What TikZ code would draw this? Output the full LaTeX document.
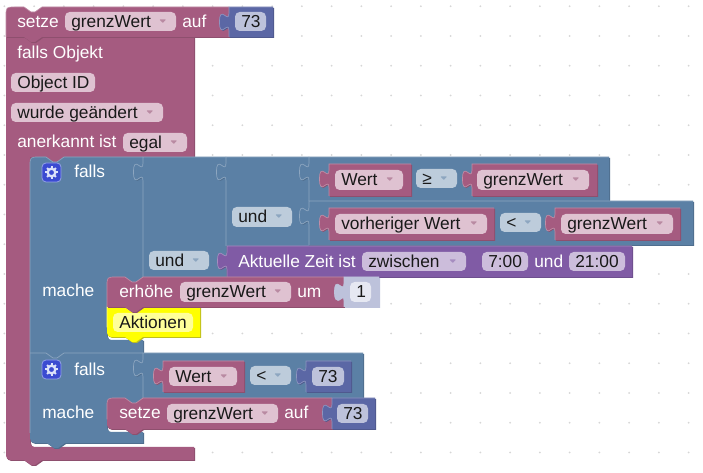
\documentclass[tikz,border=0pt]{standalone}
\usepackage{fontspec}
\setmainfont{Liberation Sans}
\definecolor{blkR}{HTML}{A55B80}\definecolor{drkR}{HTML}{8E4F6E}\definecolor{litR}{HTML}{C08DA6}\definecolor{fcR}{HTML}{DFC2D1}\definecolor{acR}{HTML}{B98AA2}
\definecolor{blkB}{HTML}{5B80A5}\definecolor{drkB}{HTML}{4F6E8E}\definecolor{litB}{HTML}{8DA6C0}\definecolor{fcB}{HTML}{BDCCDB}\definecolor{acB}{HTML}{8DA6C0}
\definecolor{blkP}{HTML}{805BA5}\definecolor{drkP}{HTML}{6E4F8E}\definecolor{litP}{HTML}{A68DC0}\definecolor{fcP}{HTML}{CCBDDB}\definecolor{acP}{HTML}{A68DC0}
\definecolor{blkM}{HTML}{5B67A5}\definecolor{drkM}{HTML}{4F598E}\definecolor{litM}{HTML}{8D95C0}\definecolor{fcM}{HTML}{BDC2DB}\definecolor{acM}{HTML}{8D95C0}
\definecolor{blkS}{HTML}{BDC2DB}\definecolor{drkS}{HTML}{BDC2DB}\definecolor{litS}{HTML}{BDC2DB}\definecolor{fcS}{HTML}{E6E8F2}\definecolor{acS}{HTML}{8D95C0}
\definecolor{blkY}{HTML}{FFFF00}\definecolor{drkY}{HTML}{BDBD20}\definecolor{litY}{HTML}{FFFF80}\definecolor{fcY}{HTML}{FFFF99}\definecolor{acY}{HTML}{CCCC00}
\definecolor{dotc}{HTML}{D6D6D6}\definecolor{gearc}{HTML}{3B4BD1}\definecolor{gearl}{HTML}{93A2E8}\definecolor{gearw}{HTML}{DCE2FA}
\tikzset{lbl/.style={inner sep=0pt,yshift=-.6pt,font=\fontsize{13}{15}\selectfont},wlbl/.style={lbl,text=white,anchor=base west},hilite/.style={line width=.5pt}}
\newcommand\tabup{.. controls +(0,-12) and +(0,18.4) .. ++(-9.5,-9) .. controls +(0,-18.4) and +(0,11.9) .. ++(9.5,-9)}
% value block: x1 y1 x2 y2 colour
\newcommand\vpath[4]{(#1,#2) -- (#3,#2) -- (#3,#4) -- (#1,#4) -- ({#1},{#2+24}) \tabup -- cycle}
\newcommand\vblk[5]{%
  \fill[drk#5,shift={(1,1)}] \vpath{#1}{#2}{#3}{#4};
  \fill[blk#5] \vpath{#1}{#2}{#3}{#4};
  \draw[lit#5,hilite] (#1,#4) -- ({#1},{#2+24}) \tabup -- (#1,#2) -- (#3,#2);}
% statement block: x1 y1 x2 y2 rtop rbottom colour
\newcommand\spath[6]{({#1},{#2+#5}) .. controls (#1,#2) .. ({#1+#5},{#2}) -- ({#1+18},{#2}) -- ({#1+25},{#2+5}) -- ({#1+29},{#2+5}) -- ({#1+36},{#2}) -- (#3,#2) -- (#3,#4) -- ({#1+36},{#4}) -- ({#1+29},{#4+5}) -- ({#1+25},{#4+5}) -- ({#1+18},{#4}) -- ({#1+#6},{#4}) .. controls (#1,#4) .. ({#1},{#4-#6}) -- cycle}
\newcommand\sblk[7]{%
  \fill[drk#7,shift={(1,1)}] \spath{#1}{#2}{#3}{#4}{#5}{#6};
  \fill[blk#7] \spath{#1}{#2}{#3}{#4}{#5}{#6};
  \draw[lit#7,hilite] ({#1},{#4-#6}) -- ({#1},{#2+#5}) .. controls (#1,#2) .. ({#1+#5},{#2}) -- ({#1+18},{#2}) -- ({#1+25},{#2+5}) -- ({#1+29},{#2+5}) -- ({#1+36},{#2}) -- (#3,#2);}
% fields: x1 y1 x2 y2 colour text
\newcommand\fld[6]{%
  \fill[fc#5,rounded corners=3.5pt] (#1,#2) rectangle (#3,#4);
  \node[lbl,text=black!90,anchor=base west] (f#1x#2) at ({#1+6},{#2+15}) {#6};}
\newcommand\dfld[6]{%
  \fld{#1}{#2}{#3}{#4}{#5}{#6}
  \fill[ac#5,rounded corners=.4pt] ({#3-16.5},{#2+7.5}) -- ({#3-10},{#2+7.5}) -- ({#3-13.2},{#2+11}) -- cycle;}
\newcommand\gearicon[3]{%
  \fill[gearc,draw=gearl,line width=.6pt,rounded corners=3pt] (#1,#2) rectangle ({#1+19},{#2+19});
  \coordinate (#3) at ({#1+9.5},{#2+9.5});
  \foreach \a in {0,45,...,315} \draw[gearw,line width=1.5pt] (#3) ++(\a:3) -- ++(\a:3.2);
  \draw[gearw,line width=1.7pt] (#3) circle[radius=3.8];}
\begin{document}
\begin{tikzpicture}[x=.75pt,y=-.75pt]
\useasboundingbox (0,0) rectangle (703,473);
\fill[white] (0,0) rectangle (703,473);
\foreach \i in {0,...,23}\foreach \j in {0,...,15}
  \fill[dotc] ({4.4+29.75*\i},{6.2+29.75*\j}) circle[radius=1];
% big event block
\def\bigred{(6,37) -- (194,37) -- (194,157) -- (64,157) -- (57,162) -- (53,162) -- (46,157) -- (30,157) -- (30,437) .. controls (30,447) .. (40,447) -- (194,447) -- (194,460) -- (42,460) -- (35,465) -- (31,465) -- (24,460) -- (15.5,460) .. controls (6,460) .. (6,450.5) -- cycle}
\fill[drkR,shift={(1,1)}] \bigred;
\fill[blkR] \bigred;
% blue if block
\def\blueif{(30,166.5) .. controls (30,157) .. (39.5,157) -- (46,157) -- (53,162) -- (57,162) -- (64,157) -- (143,157) -- (143,277) -- (136,282) -- (132,282) -- (125,277) -- (116.5,277) .. controls (107,277) .. (107,286.5) -- (107,330.5) .. controls (107,340) .. (116.5,340) -- (143,340) -- (143,398) -- (136,403) -- (132,403) -- (125,398) -- (116.5,398) .. controls (107,398) .. (107,407.5) -- (107,423) .. controls (107,432) .. (116,432) -- (143,432) -- (143,443) -- (65,443) -- (58,448) -- (54,448) -- (47,443) -- (40,443) .. controls (30,443) .. (30,433) -- cycle}
\fill[drkB,shift={(1,1)}] \blueif;
\fill[blkB] \blueif;
\draw[litB,hilite] (30,433) -- (30,166.5) .. controls (30,157) .. (39.5,157) -- (46,157) -- (53,162) -- (57,162) -- (64,157) -- (143,157);
\draw[litB,hilite] (30,353) -- (46,353) -- (53,358) -- (57,358) -- (64,353) -- (143,353);
% value blocks on blue
\vblk{143}{157}{226}{277}{B}
\vblk{226}{157}{309}{246}{B}
\vblk{309}{157}{609}{201}{B}
\vblk{309}{201}{693}{245}{B}
\vblk{227}{246}{632}{277}{P}
\vblk{143}{353}{363}{398}{B}
% variables in comparisons
\vblk{329}{164}{411}{196}{R}
\dfld{335}{170}{403}{190}{R}{Wert}
\dfld{416}{169}{457}{188}{B}{≥}
\vblk{472}{164}{597}{196}{R}
\dfld{477}{170}{589}{190}{R}{grenzWert}
\vblk{329}{208}{494}{240}{R}
\dfld{335}{214}{487}{234}{R}{vorheriger Wert}
\dfld{500}{213}{541}{232}{B}{<}
\vblk{555}{208}{680}{240}{R}
\dfld{561}{214}{673}{234}{R}{grenzWert}
\dfld{232}{207}{292}{227}{B}{und}
\dfld{149}{251}{209}{270}{B}{und}
\node[wlbl] (aktzeit) at (238,267) {Aktuelle Zeit ist};
\dfld{362}{252}{466}{271}{P}{zwischen}
\fld{482}{252}{528}{271}{P}{7:00}
\node[wlbl] (undzeit) at (534,267) {und};
\fld{569}{252}{625}{271}{P}{21:00}
\vblk{163}{361}{244}{392}{R}
\dfld{169}{367}{237}{386}{R}{Wert}
\dfld{250}{366}{291}{385}{B}{<}
\vblk{306}{361}{351}{392}{M}
\fld{312}{367}{344}{386}{M}{73}
% labels on the column
\gearicon{42}{163}{gearA}
\node[wlbl] (fallsA) at (74,177) {falls};
\node[wlbl] (macheA) at (42,296) {mache};
\gearicon{42}{360}{gearB}
\node[wlbl] (fallsB) at (74,375) {falls};
\node[wlbl] (macheB) at (42,418) {mache};
% Aktionen and erhöhe
\sblk{107}{307}{200}{337}{0}{9.5}{Y}
\fld{113}{313}{193}{332}{Y}{Aktionen}
\sblk{107}{277}{344}{307}{9.5}{0}{R}
\node[wlbl] (erh) at (119,297) {erhöhe};
\dfld{180}{282}{291}{302}{R}{grenzWert}
\node[wlbl] (um) at (297,297) {um};
\vblk{344}{277}{379}{307}{S}
\fld{350}{282}{371}{302}{S}{1}
% setze inside second mache
\sblk{107}{398}{332}{429}{9.5}{9.5}{R}
\node[wlbl] (setzeB) at (119,418) {setze};
\dfld{167}{404}{278}{423}{R}{grenzWert}
\node[wlbl] (aufB) at (284,418) {auf};
\vblk{332}{398}{375}{429}{M}
\fld{337}{404}{368}{423}{M}{73}
% top setze block
\sblk{6}{7}{229}{37}{9.5}{0}{R}
\node[wlbl] (setzeA) at (17,27) {setze};
\dfld{65}{12}{176}{31}{R}{grenzWert}
\node[wlbl] (aufA) at (182,27) {auf};
\vblk{229}{7}{273}{37}{M}
\fld{235}{12}{266}{31}{M}{73}
% event block head labels
\node[wlbl] (fallsO) at (17,58) {falls Objekt};
\fld{11}{73}{95}{92}{R}{Object ID}
\dfld{11}{103}{163}{122}{R}{wurde geändert}
\node[wlbl] (anerk) at (17,147) {anerkannt ist};
\dfld{123}{133}{187}{152}{R}{egal}
\end{tikzpicture}
\end{document}
